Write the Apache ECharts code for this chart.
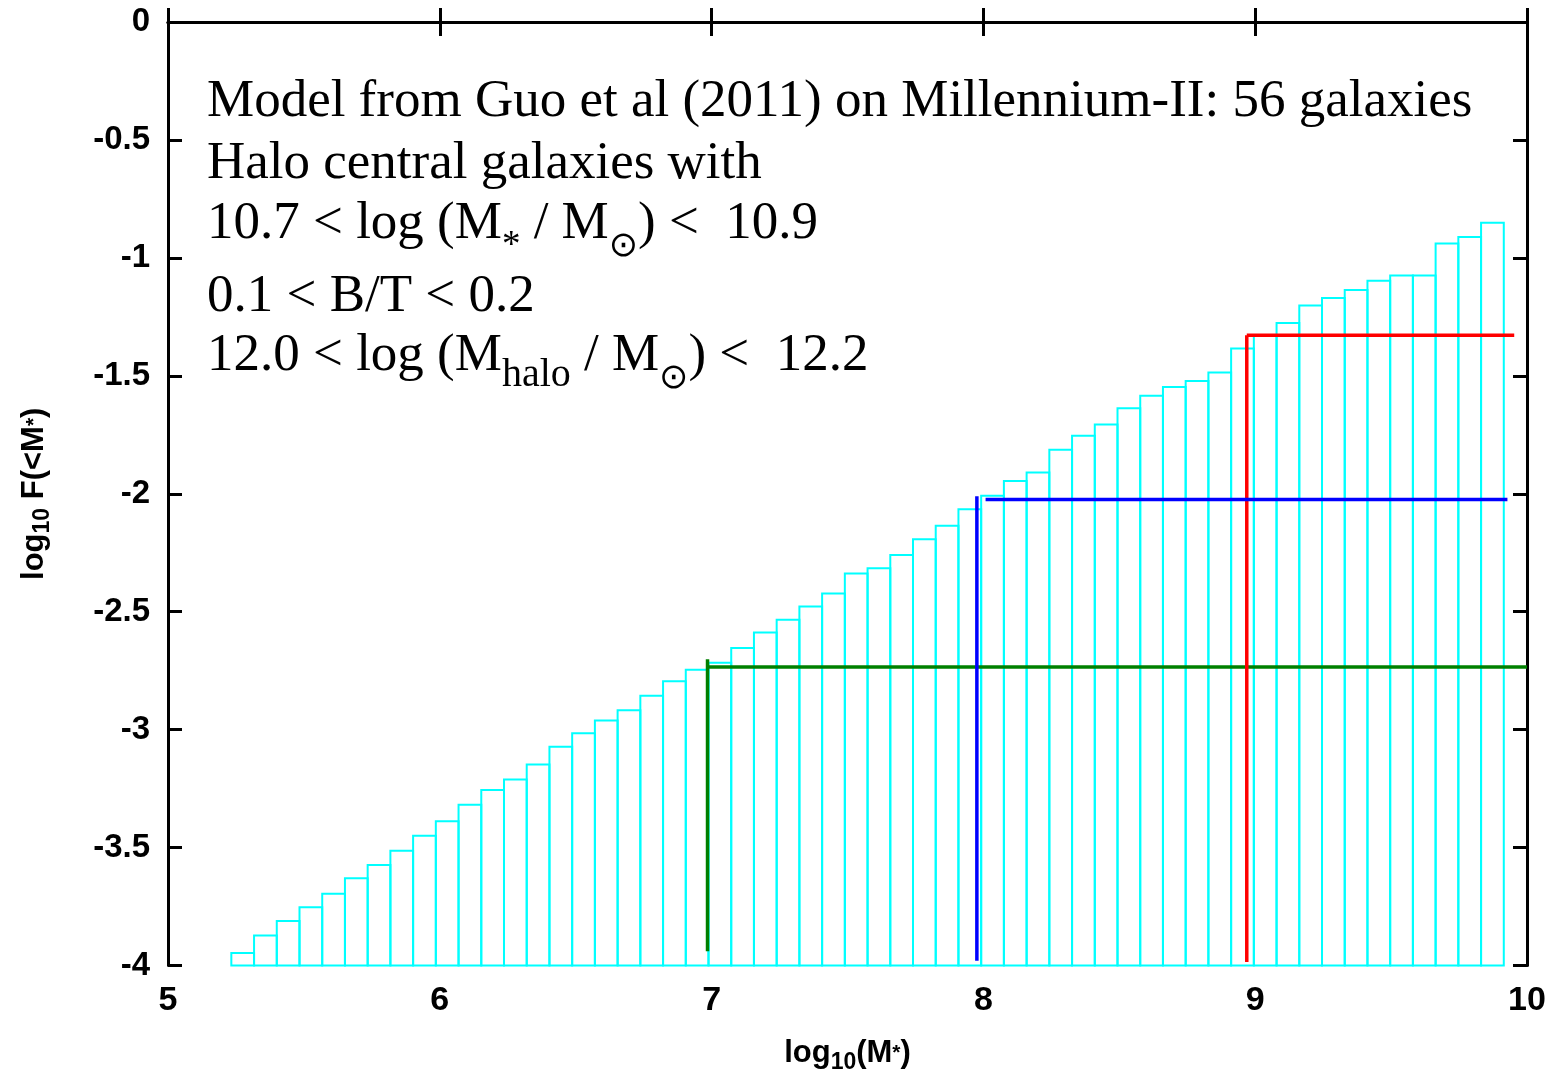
<!DOCTYPE html>
<html><head><meta charset="utf-8">
<script src="https://cdn.jsdelivr.net/npm/echarts@6/dist/echarts.min.js"></script>
<style>html,body{margin:0;padding:0;background:#fff}#c{width:1554px;height:1079px}</style>
</head><body><div id="c"></div>
<script>
// Histogram bins (uniform) of log10(M*), and cumulative log10 F(<M*)
const binStart = 5.233;
const binWidth = 0.0836;
const cumValues = [
  -3.947,-3.873,-3.811,-3.753,-3.696,-3.630,-3.574,-3.514,-3.450,-3.388,
  -3.318,-3.256,-3.211,-3.148,-3.073,-3.015,-2.961,-2.918,-2.856,-2.795,
  -2.746,-2.717,-2.654,-2.588,-2.534,-2.478,-2.423,-2.338,-2.316,-2.260,
  -2.193,-2.136,-2.066,-2.008,-1.946,-1.910,-1.813,-1.754,-1.706,-1.638,
  -1.584,-1.547,-1.522,-1.486,-1.384,-1.329,-1.276,-1.202,-1.170,-1.136,
  -1.097,-1.075,-1.075,-0.939,-0.912,-0.851
];
// Marker lines
const greenV = [[6.985,-3.94],[6.985,-2.702]];
const greenH = [[6.985,-2.734],[10.0,-2.734]];
const blueV  = [[7.976,-3.98],[7.976,-2.011]];
const blueH  = [[8.008,-2.024],[9.928,-2.024]];
const redV   = [[8.969,-3.985],[8.969,-1.328]];
const redH   = [[8.969,-1.328],[9.953,-1.328]];

const xRange = [5, 10, 1];
const yRange = [-4, 0, 0.5];

const textLines = [
  '{n|Model from Guo et al (2011) on Millennium-II: 56 galaxies}',
  '{n|Halo central galaxies with}',
  '{n|10.7 < log (M}{st|*}{n| / M}{sun|⊙}{n|) <  10.9}',
  '{n|0.1 < B/T < 0.2}',
  '{n|12.0 < log (M}{sub|halo}{n| / M}{sun|⊙}{n|) <  12.2}'
];
const textBaselines = [120, 182, 242, 315, 374];

const chart = echarts.init(document.getElementById('c'), null, {renderer:'canvas'});
const serif = 'Liberation Serif';
const sans = 'Liberation Sans';
const richText = {
  n:   {fontFamily: serif, fontSize: 53, lineHeight: 100, color:'#000'},
  sub: {fontFamily: serif, fontSize: 40, lineHeight: 100, padding:[39,0,0,0], color:'#000'},
  st:  {fontFamily: serif, fontSize: 37, lineHeight: 100, padding:[45,0,0,0], color:'#000'},
  sun: {fontFamily: 'DejaVu Sans', fontSize: 35, lineHeight: 100, padding:[46,0,0,0], color:'#000'}
};
const frame = {show:true, lineStyle:{color:'#000', width:3}};
const tick = {show:true, inside:true, length:14, lineStyle:{color:'#000', width:3}};
const nameRich = {
  a:{fontFamily:sans, fontWeight:'bold', fontSize:31, lineHeight:36, color:'#000'},
  s:{fontFamily:sans, fontWeight:'bold', fontSize:23, lineHeight:36, padding:[18,0,0,0], color:'#000'},
  t:{fontFamily:sans, fontWeight:'bold', fontSize:21, lineHeight:36, color:'#000'}
};

function lineSeries(data, color){
  return {type:'line', data:data, showSymbol:false, symbol:'none', z:5,
    lineStyle:{color:color, width:3.5}, animation:false, silent:true};
}

const option = {
  animation:false,
  backgroundColor:'#fff',
  grid:{left:168, right:27, top:22, bottom:104, containLabel:false},
  xAxis:[{
    type:'value', min:xRange[0], max:xRange[1], interval:xRange[2], position:'bottom',
    axisLine:frame, axisTick:tick, splitLine:{show:false},
    axisLabel:{show:true, margin:18, color:'#000', fontFamily:sans, fontWeight:'bold', fontSize:34},
    name:'{a|log}{s|10}{a|(M}{t|*}{a|)}', nameLocation:'middle', nameGap:70,
    nameTextStyle:{rich:nameRich}
  },{
    type:'value', min:xRange[0], max:xRange[1], interval:xRange[2], position:'top',
    axisLine:frame, axisTick:tick, axisLabel:{show:false}, splitLine:{show:false}
  }],
  yAxis:[{
    type:'value', min:yRange[0], max:yRange[1], interval:yRange[2], position:'left',
    axisLine:frame, axisTick:tick, splitLine:{show:false},
    axisLabel:{show:true, margin:18, color:'#000', fontFamily:sans, fontWeight:'bold', fontSize:33},
    name:'{a|log}{s|10}{a| F(<M}{t|*}{a|)}', nameLocation:'middle', nameGap:116, nameRotate:90,
    nameTextStyle:{rich:nameRich}
  },{
    type:'value', min:yRange[0], max:yRange[1], interval:yRange[2], position:'right',
    axisLine:frame, axisTick:tick, axisLabel:{show:false}, splitLine:{show:false}
  }],
  series:[
    {
      type:'custom', z:2, silent:true,
      data: cumValues.map((v,i)=>[binStart+i*binWidth, binStart+(i+1)*binWidth, v]),
      encode:{x:[0,1], y:2},
      renderItem:function(params, api){
        const p0 = api.coord([api.value(0), api.value(2)]);
        const p1 = api.coord([api.value(1), yRange[0]]);
        return {type:'rect', shape:{x:p0[0], y:p0[1], width:p1[0]-p0[0], height:p1[1]-p0[1]},
          style:{fill:'rgba(0,0,0,0)', stroke:'#00ffff', lineWidth:2}};
      }
    },
    lineSeries(greenV,'#008000'), lineSeries(greenH,'#008000'),
    lineSeries(redV,'#ff0000'), lineSeries(redH,'#ff0000'),
    lineSeries(blueV,'#0000ff'), lineSeries(blueH,'#0000ff')
  ],
  graphic: textLines.map((t,i)=>({
    type:'text', x:207, y:textBaselines[i]-18, z:10, silent:true,
    style:{text:t, rich:richText, fill:'#000', align:'left', verticalAlign:'middle'}
  }))
};
chart.setOption(option);
</script></body></html>
